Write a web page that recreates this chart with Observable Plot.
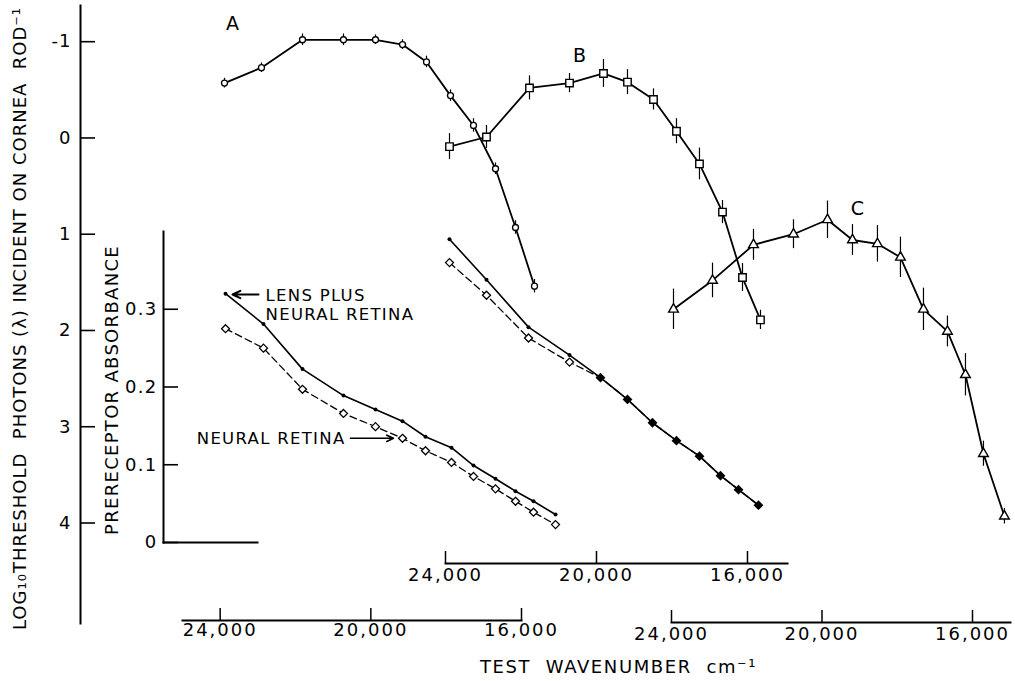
<!DOCTYPE html>
<html>
<head>
<meta charset="utf-8">
<script src="https://cdn.jsdelivr.net/npm/d3@7"></script>
<script src="https://cdn.jsdelivr.net/npm/@observablehq/plot@0.6"></script>
<style>
  html, body { margin: 0; padding: 0; background: #fff; }
  #chart { position: relative; width: 1015px; height: 681px; overflow: hidden; background: #fff; }
  #chart svg { position: absolute; left: 0; top: 0; }
</style>
</head>
<body>
<div id="chart"></div>
<script>
// ---------- data ----------
const wavenumberTicks = [24000, 20000, 16000];
const logThresholdTicks = [-1, 0, 1, 2, 3, 4];
const absorbanceTicks = [0, 0.1, 0.2, 0.3];

// Panel A (circles)
const panelAWavenumber = [23885, 22903, 21814, 20726, 19876, 19159, 18522, 17885, 17274, 16690, 16159, 15655];
const panelALogThreshold = [-0.57, -0.73, -1.02, -1.02, -1.02, -0.97, -0.79, -0.44, -0.13, 0.32, 0.93, 1.54];
const panelAError = [0.05, 0.05, 0.06, 0.06, 0.05, 0.05, 0.06, 0.06, 0.07, 0.06, 0.07, 0.07];

// Panel B (squares)
const panelBWavenumber = [23894, 22914, 21775, 20715, 19815, 19179, 18490, 17881, 17272, 16662, 16132, 15656];
const panelBLogThreshold = [0.09, -0.01, -0.52, -0.57, -0.67, -0.58, -0.40, -0.07, 0.27, 0.77, 1.45, 1.89];
const panelBError = [0.135, 0.12, 0.125, 0.10, 0.145, 0.13, 0.11, 0.13, 0.165, 0.12, 0.145, 0.10];

// Panel C (triangles)
const panelCWavenumber = [23947, 22910, 21821, 20758, 19854, 19190, 18526, 17915, 17303, 16666, 16187, 15709, 15151];
const panelCLogThreshold = [1.78, 1.48, 1.11, 1.00, 0.85, 1.06, 1.10, 1.24, 1.78, 2.01, 2.46, 3.28, 3.93];
const panelCError = [0.21, 0.18, 0.16, 0.15, 0.195, 0.16, 0.19, 0.21, 0.22, 0.16, 0.22, 0.13, 0.08];

// Prereceptor absorbance, inset under A
const insetAWavenumber = [23858, 22850, 21814, 20726, 19876, 19159, 18549, 17858, 17274, 16690, 16159, 15681, 15097];
const insetALensPlusRetina = [0.320, 0.281, 0.223, 0.189, 0.171, 0.156, 0.136, 0.122, 0.099, 0.082, 0.066, 0.053, 0.036];
const insetANeuralRetina = [0.275, 0.250, 0.197, 0.166, 0.149, 0.134, 0.118, 0.103, 0.085, 0.069, 0.053, 0.039, 0.023];

// Prereceptor absorbance, inset under B
const insetBWavenumber = [23894, 22914, 21801, 20715, 19894, 19179, 18517, 17881, 17272, 16715, 16238, 15709];
const insetBLensPlusRetina = [0.390, 0.338, 0.277, 0.241, 0.212, 0.184, 0.154, 0.131, 0.111, 0.086, 0.068, 0.048];
const insetBNeuralRetina = [0.360, 0.318, 0.263, 0.232, 0.212, 0.184, 0.154, 0.131, 0.111, 0.086, 0.068, 0.048];

// ---------- tables ----------
const table = (w, v, e) => w.map((x, i) => ({w: x, v: v[i], e: e[i]}));
const panelA = table(panelAWavenumber, panelALogThreshold, panelAError);
const panelB = table(panelBWavenumber, panelBLogThreshold, panelBError);
const panelC = table(panelCWavenumber, panelCLogThreshold, panelCError);
const insetTable = (w, lens, neural) => w.map((x, i) => ({w: x, lens: lens[i], neural: neural[i]}));
const insetA = insetTable(insetAWavenumber, insetALensPlusRetina, insetANeuralRetina);
const insetB = insetTable(insetBWavenumber, insetBLensPlusRetina, insetBNeuralRetina);

// ---------- layout ----------
const W = 1015, H = 681;
const chart = document.getElementById("chart");
const FONT = "font-family:'DejaVu Sans',sans-serif;";
function layer(opts, extraStyle) {
  const svg = Plot.plot({
    width: W, height: H, marginTop: 0, marginRight: 0, marginBottom: 0, marginLeft: 0,
    ...opts,
    style: "background:transparent;overflow:visible;color:#000;font-size:18px;" + FONT + (extraStyle || "")
  });
  chart.appendChild(svg);
  return svg;
}
const fmtWave = d3.format(",");
const fmtLog = d => (d < 0 ? "-" + (-d) : String(d));
const fmtAbs = d => (d === 0 ? "0" : d.toFixed(1));
const logY = {domain: [-1, 4], range: [41.2, 522.5]};
const absY = {domain: [0, 0.4], range: [542, 231]};
const xA = {domain: [25000, 16000], range: [182, 521]};
const xB = {domain: [24000, 14940], range: [445, 787]};
const xC = {domain: [24000, 14990], range: [671, 1010]};

// Main ordinate (log threshold) with its title
layer({
  marginLeft: 80, marginTop: 5, marginBottom: H - 623, marginRight: W - 90,
  y: {...logY},
  marks: [
    Plot.frame({anchor: "left", strokeWidth: 2}),
    Plot.axisY({ticks: logThresholdTicks, tickSize: -15, tickPadding: 24, tickFormat: fmtLog, strokeWidth: 1.6, label: null}),
    Plot.text(["LOG\u2081\u2080THRESHOLD  PHOTONS (\u03bb) INCIDENT ON CORNEA  ROD\u207b\u00b9"],
      {frameAnchor: "left", textAnchor: "middle", dx: -60, dy: 4, rotate: -90, fontSize: 18})
  ]
}, "letter-spacing:1px;");

// Common abscissa title
layer({
  marginLeft: 80, marginTop: 5, marginBottom: H - 623, marginRight: W - 90,
  marks: [
    Plot.text(["TEST  WAVENUMBER  cm\u207b\u00b9"],
      {frameAnchor: "bottom-left", textAnchor: "middle", dx: 538, dy: 49, fontSize: 18})
  ]
}, "letter-spacing:1.6px;");

// Panel A
layer({
  marginLeft: 182, marginRight: W - 521, marginBottom: H - 620,
  x: {...xA}, y: {...logY, axis: null},
  marks: [
    Plot.frame({anchor: "bottom", strokeWidth: 2}),
    Plot.axisX({ticks: wavenumberTicks, tickSize: -12, tickPadding: 15, tickFormat: fmtWave, strokeWidth: 1.5, label: null}),
    Plot.ruleX(panelA, {x: "w", y1: d => d.v - d.e, y2: d => d.v + d.e, strokeWidth: 1.2}),
    Plot.line(panelA, {x: "w", y: "v", strokeWidth: 1.8}),
    Plot.dot(panelA, {x: "w", y: "v", r: 3, fill: "white", stroke: "black", strokeWidth: 1.3}),
    Plot.text(["A"], {x: () => 23646, y: () => -1.19, fontSize: 19})
  ]
}, "letter-spacing:2px;");

// Panel B
layer({
  marginLeft: 445, marginRight: W - 787, marginBottom: H - 563,
  x: {...xB}, y: {...logY, axis: null},
  marks: [
    Plot.frame({anchor: "bottom", strokeWidth: 2}),
    Plot.axisX({ticks: wavenumberTicks, tickSize: -12, tickPadding: 17, tickFormat: fmtWave, strokeWidth: 1.5, label: null}),
    Plot.ruleX(panelB, {x: "w", y1: d => d.v - d.e, y2: d => d.v + d.e, strokeWidth: 1.2}),
    Plot.line(panelB, {x: "w", y: "v", strokeWidth: 1.8}),
    Plot.dot(panelB, {x: "w", y: "v", symbol: "square", r: 4.2, fill: "white", stroke: "black", strokeWidth: 1.4}),
    Plot.text(["B"], {x: () => 20424, y: () => -0.857, fontSize: 19})
  ]
}, "letter-spacing:2px;");

// Panel C
layer({
  marginLeft: 671, marginRight: W - 1010, marginBottom: H - 622,
  x: {...xC}, y: {...logY, axis: null},
  marks: [
    Plot.frame({anchor: "bottom", strokeWidth: 2}),
    Plot.axisX({ticks: wavenumberTicks, tickSize: -12, tickPadding: 17, tickFormat: fmtWave, strokeWidth: 1.5, label: null}),
    Plot.ruleX(panelC, {x: "w", y1: d => d.v - d.e, y2: d => d.v + d.e, strokeWidth: 1.2}),
    Plot.line(panelC, {x: "w", y: "v", strokeWidth: 1.8}),
    Plot.dot(panelC, {x: "w", y: "v", symbol: "triangle", r: 3.6, fill: "white", stroke: "black", strokeWidth: 1.4}),
    Plot.text(["C"], {x: () => 19030, y: () => 0.733, fontSize: 19})
  ]
}, "letter-spacing:2px;");

// Inset under A: prereceptor absorbance, own ordinate
layer({
  marginLeft: 163, marginRight: W - 257, marginTop: 231, marginBottom: H - 542,
  x: {...xA, axis: null}, y: {...absY},
  marks: [
    Plot.frame({anchor: "left", strokeWidth: 2}),
    Plot.frame({anchor: "bottom", strokeWidth: 2}),
    Plot.axisY({ticks: absorbanceTicks, tickSize: -15, tickPadding: 21, tickFormat: fmtAbs, strokeWidth: 1.6, label: null}),
    Plot.text(["PRERECEPTOR ABSORBANCE"], {frameAnchor: "left", textAnchor: "middle", dx: -51, dy: 3, rotate: -90, fontSize: 18}),
    Plot.line(insetA, {x: "w", y: "neural", strokeWidth: 1.3, strokeDasharray: "7,4"}),
    Plot.line(insetA, {x: "w", y: "lens", strokeWidth: 1.6}),
    Plot.dot(insetA, {x: "w", y: "lens", r: 2, fill: "black"}),
    Plot.dot(insetA, {x: "w", y: "neural", symbol: "diamond2", r: 3.6, fill: "white", stroke: "black", strokeWidth: 1.3}),
    Plot.arrow([{x1: 22982, x2: 23673, y: 0.319}], {x1: "x1", x2: "x2", y1: "y", y2: "y", strokeWidth: 2, headLength: 7, headAngle: 50}),
    Plot.arrow([{x1: 20540, x2: 19398, y: 0.134}], {x1: "x1", x2: "x2", y1: "y", y2: "y", strokeWidth: 1.6, headLength: 7, headAngle: 50}),
    Plot.text(["LENS PLUS\nNEURAL RETINA"], {x: () => 22796, y: () => 0.306, textAnchor: "start", lineAnchor: "middle", lineHeight: 1.12, fontSize: 16.5}),
    Plot.text(["NEURAL RETINA"], {x: () => 20673, y: () => 0.134, textAnchor: "end", fontSize: 16.5})
  ]
}, "letter-spacing:1.3px;");

// Inset under B: prereceptor absorbance (same absorbance scale)
layer({
  marginLeft: 445, marginRight: W - 787, marginTop: 231, marginBottom: H - 542,
  x: {...xB, axis: null}, y: {...absY, axis: null},
  marks: [
    Plot.line(insetB, {x: "w", y: "neural", strokeWidth: 1.3, strokeDasharray: "7,4"}),
    Plot.line(insetB, {x: "w", y: "lens", strokeWidth: 1.6}),
    Plot.dot(insetB, {x: "w", y: "lens", r: 2, fill: "black"}),
    Plot.dot(insetB, {x: "w", y: "neural", symbol: "diamond2", r: 3.6,
      fill: d => (d.neural === d.lens ? "black" : "white"), stroke: "black", strokeWidth: 1.3})
  ]
});
</script>
</body>
</html>
